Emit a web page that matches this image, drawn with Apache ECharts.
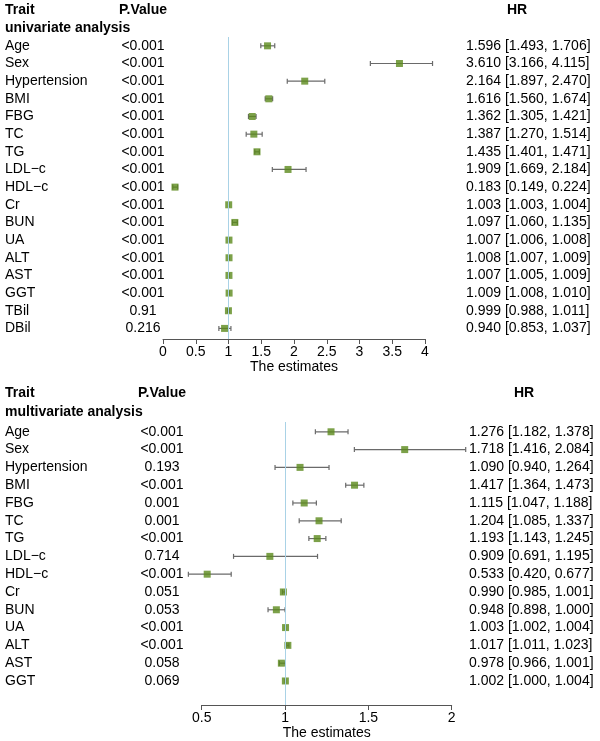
<!DOCTYPE html>
<html><head><meta charset="utf-8">
<script src="https://cdn.jsdelivr.net/npm/echarts@6/dist/echarts.min.js"></script>
<style>html,body{margin:0;padding:0;background:#fff}#c{width:600px;height:741px}</style>
</head><body><div id="c"></div>
<script>
// ---------- data ----------
const uniTraits = ['Age','Sex','Hypertension','BMI','FBG','TC','TG','LDL−c','HDL−c','Cr','BUN','UA','ALT','AST','GGT','TBil','DBil'];
const uniP = ['<0.001','<0.001','<0.001','<0.001','<0.001','<0.001','<0.001','<0.001','<0.001','<0.001','<0.001','<0.001','<0.001','<0.001','<0.001','0.91','0.216'];
const uniHR = [1.596,3.610,2.164,1.616,1.362,1.387,1.435,1.909,0.183,1.003,1.097,1.007,1.008,1.007,1.009,0.999,0.940];
const uniLo = [1.493,3.166,1.897,1.560,1.305,1.270,1.401,1.669,0.149,1.003,1.060,1.006,1.007,1.005,1.008,0.988,0.853];
const uniHi = [1.706,4.115,2.470,1.674,1.421,1.514,1.471,2.184,0.224,1.004,1.135,1.008,1.009,1.009,1.010,1.011,1.037];

const mulTraits = ['Age','Sex','Hypertension','BMI','FBG','TC','TG','LDL−c','HDL−c','Cr','BUN','UA','ALT','AST','GGT'];
const mulP = ['<0.001','<0.001','0.193','<0.001','0.001','0.001','<0.001','0.714','<0.001','0.051','0.053','<0.001','<0.001','0.058','0.069'];
const mulHR = [1.276,1.718,1.090,1.417,1.115,1.204,1.193,0.909,0.533,0.990,0.948,1.003,1.017,0.978,1.002];
const mulLo = [1.182,1.416,0.940,1.364,1.047,1.085,1.143,0.691,0.420,0.985,0.898,1.002,1.011,0.966,1.000];
const mulHi = [1.378,2.084,1.264,1.473,1.188,1.337,1.245,1.195,0.677,1.001,1.000,1.004,1.023,1.001,1.004];

const headers = ['Trait','P.Value','HR'];
const sectionTitles = ['univariate analysis','multivariate analysis'];
const axisName = 'The estimates';

// ---------- styles ----------
const FONT = '"Liberation Sans", Arial, sans-serif';
const GREEN = '#5b8a1c';
const BAR = '#6a6a6a';
const REF = '#a9d2e6';
const AXIS = '#555';

const panels = [
  {traits: uniTraits, p: uniP, hr: uniHR, lo: uniLo, hi: uniHi,
   grid: {left: 163, top: 37, width: 262, height: 302}, xmin: 0, xmax: 4, ymin: -0.5, ymax: 16.6,
   pX: 143, hrX: 466, hdrY: 10, secY: 28, hrHdrX: 517},
  {traits: mulTraits, p: mulP, hr: mulHR, lo: mulLo, hi: mulHi,
   grid: {left: 201.7, top: 422, width: 250, height: 283}, xmin: 0.5, xmax: 2, ymin: -0.55, ymax: 15.35,
   pX: 162, hrX: 469, hdrY: 393, secY: 412, hrHdrX: 524}
];

const grids = [], xAxes = [], yAxes = [], series = [], graphics = [];
panels.forEach((P, i) => {
  grids.push(Object.assign({containLabel: false}, P.grid));
  xAxes.push({
    type: 'value', gridIndex: i, min: P.xmin, max: P.xmax, interval: 0.5, position: 'bottom',
    splitLine: {show: false},
    axisLine: {show: true, onZero: false, lineStyle: {color: AXIS, width: 1}},
    axisTick: {show: true, length: 5, lineStyle: {color: AXIS}},
    axisLabel: {color: '#000', fontSize: 14, fontFamily: FONT, margin: 6},
    name: axisName, nameLocation: 'middle', nameGap: 20,
    nameTextStyle: {color: '#000', fontSize: 14, fontFamily: FONT}
  });
  yAxes.push({
    type: 'value', gridIndex: i, min: P.ymin, max: P.ymax, inverse: true,
    show: false, splitLine: {show: false}
  });
  // error bars
  series.push({
    type: 'custom', xAxisIndex: i, yAxisIndex: i, clip: false, z: 2,
    data: P.lo.map((v, k) => [v, P.hi[k], k]),
    encode: {x: [0, 1], y: 2},
    renderItem: (params, api) => {
      const a = api.coord([api.value(0), api.value(2)]);
      const b = api.coord([api.value(1), api.value(2)]);
      const st = {stroke: BAR, lineWidth: 1.2};
      return {type: 'group', children: [
        {type: 'line', shape: {x1: a[0], y1: a[1], x2: b[0], y2: b[1]}, style: st},
        {type: 'line', shape: {x1: a[0], y1: a[1] - 2.5, x2: a[0], y2: a[1] + 2.5}, style: st},
        {type: 'line', shape: {x1: b[0], y1: b[1] - 2.5, x2: b[0], y2: b[1] + 2.5}, style: st}
      ]};
    },
    markLine: {
      silent: true, symbol: 'none', label: {show: false},
      lineStyle: {color: REF, width: 1, type: 'solid'},
      data: [{xAxis: 1}]
    }
  });
  // point estimates
  series.push({
    type: 'scatter', xAxisIndex: i, yAxisIndex: i, z: 3,
    symbol: 'rect', symbolSize: 7,
    itemStyle: {color: GREEN},
    data: P.hr.map((v, k) => [v, k])
  });
  // row texts
  series.push({
    type: 'custom', xAxisIndex: i, yAxisIndex: i, clip: false, silent: true, z: 4,
    data: P.hr.map((v, k) => [v, k]),
    encode: {x: 0, y: 1},
    renderItem: (params, api) => {
      const k = api.value(1);
      const y = api.coord([api.value(0), k])[1];
      const ts = (txt, x, align) => ({type: 'text', x: x, y: y,
        style: {text: txt, fill: '#000', font: '14px ' + FONT, textAlign: align, textVerticalAlign: 'middle'}});
      return {type: 'group', children: [
        ts(P.traits[k], 5, 'left'),
        ts(P.p[k], P.pX, 'center'),
        ts(P.hr[k].toFixed(3) + ' [' + P.lo[k].toFixed(3) + ', ' + P.hi[k].toFixed(3) + ']', P.hrX, 'left')
      ]};
    }
  });
  const bold = (txt, x, y, align) => ({type: 'text', x: x, y: y,
    style: {text: txt, fill: '#000', font: 'bold 14px ' + FONT, textAlign: align, textVerticalAlign: 'middle'}});
  graphics.push(bold(headers[0], 5, P.hdrY, 'left'));
  graphics.push(bold(headers[1], P.pX, P.hdrY, 'center'));
  graphics.push(bold(headers[2], P.hrHdrX, P.hdrY, 'center'));
  graphics.push(bold(sectionTitles[i], 5, P.secY, 'left'));
});

const chart = echarts.init(document.getElementById('c'), null, {renderer: 'canvas'});
chart.setOption({
  animation: false,
  backgroundColor: '#fff',
  grid: grids, xAxis: xAxes, yAxis: yAxes, series: series,
  graphic: graphics
});
</script></body></html>
